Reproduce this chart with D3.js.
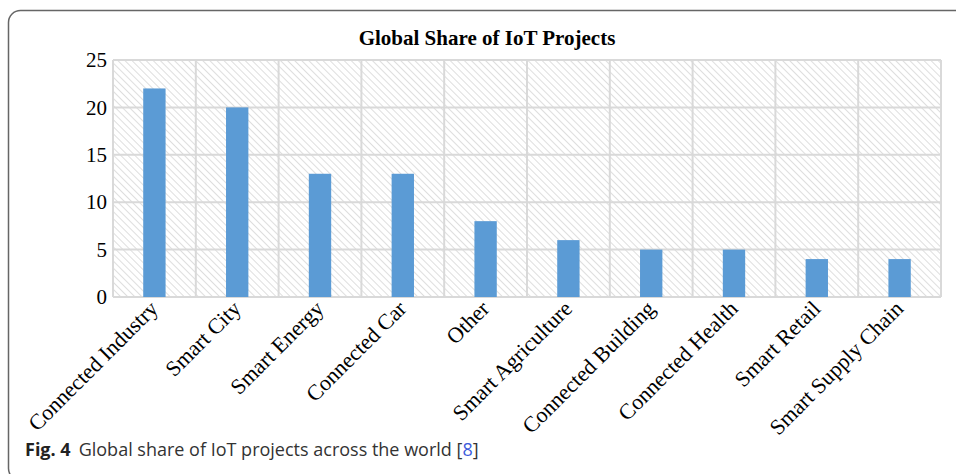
<!DOCTYPE html>
<html>
<head>
<meta charset="utf-8">
<script src="https://cdn.jsdelivr.net/npm/d3@7"></script>
<style>
  body { margin: 0; background: #fff; }
  svg { display: block; }
</style>
</head>
<body>
<div id="chart"></div>
<script>
const width = 956;
const height = 474;

// data
const categories = ["Connected Industry", "Smart City", "Smart Energy", "Connected Car", "Other",
  "Smart Agriculture", "Connected Building", "Connected Health", "Smart Retail", "Smart Supply Chain"];
const values = [22, 20, 13, 13, 8, 6, 5, 5, 4, 4];
const yTicks = [0, 5, 10, 15, 20, 25];

const margin = { left: 113, right: 15, top: 60, bottom: 177 };

const svg = d3.select("#chart")
  .append("svg")
  .attr("width", width)
  .attr("height", height);

// hatch pattern for the plot background
const defs = svg.append("defs");
const pat = defs.append("pattern")
  .attr("id", "hatch")
  .attr("patternUnits", "userSpaceOnUse")
  .attr("width", 5)
  .attr("height", 5)
  .attr("patternTransform", "rotate(-45)");
pat.append("rect").attr("width", 5).attr("height", 5).attr("fill", "#fff");
pat.append("line")
  .attr("x1", 0).attr("y1", 0).attr("x2", 0).attr("y2", 5)
  .attr("stroke", "#d6d6d6")
  .attr("stroke-width", 1.6);

// outer frame (runs off the right and bottom edges)
svg.append("rect")
  .attr("x", 8.5)
  .attr("y", 10.5)
  .attr("width", 1000)
  .attr("height", 470)
  .attr("rx", 12)
  .attr("fill", "none")
  .attr("stroke", "#666")
  .attr("stroke-width", 1.5);

const x = d3.scaleBand()
  .domain(categories)
  .range([margin.left, width - margin.right])
  .paddingInner(0)
  .paddingOuter(0);

const y = d3.scaleLinear()
  .domain([0, 25])
  .range([height - margin.bottom, margin.top]);

// plot area
svg.append("rect")
  .attr("x", margin.left)
  .attr("y", margin.top)
  .attr("width", width - margin.left - margin.right)
  .attr("height", y(0) - margin.top)
  .attr("fill", "url(#hatch)");

// horizontal gridlines
svg.append("g")
  .selectAll("line")
  .data(yTicks)
  .enter()
  .append("line")
  .attr("x1", margin.left)
  .attr("x2", width - margin.right)
  .attr("y1", d => y(d))
  .attr("y2", d => y(d))
  .attr("stroke", "#d9d9d9")
  .attr("stroke-width", 2);

// vertical gridlines at category boundaries
const bounds = categories.map(c => x(c)).concat([x.range()[1]]);
svg.append("g")
  .selectAll("line")
  .data(bounds)
  .enter()
  .append("line")
  .attr("x1", d => d)
  .attr("x2", d => d)
  .attr("y1", margin.top)
  .attr("y2", y(0))
  .attr("stroke", "#d9d9d9")
  .attr("stroke-width", 2);

// bars
const barW = x.bandwidth() * 0.27;
svg.append("g")
  .selectAll("rect")
  .data(values)
  .enter()
  .append("rect")
  .attr("x", (d, i) => x(categories[i]) + x.bandwidth() / 2 - barW / 2)
  .attr("y", d => y(d))
  .attr("width", barW)
  .attr("height", d => y(0) - y(d))
  .attr("fill", "#5b9bd5");

// y axis labels
const yAxis = svg.append("g")
  .attr("transform", `translate(${margin.left},0)`)
  .call(d3.axisLeft(y).tickValues(yTicks).tickSize(0).tickPadding(6));
yAxis.select(".domain").remove();
yAxis.selectAll("text")
  .style("font-family", "'Liberation Serif', 'Times New Roman', serif")
  .style("font-size", "21px")
  .attr("fill", "#000");

// x axis labels
const xAxis = svg.append("g")
  .attr("transform", `translate(0,${y(0)})`)
  .call(d3.axisBottom(x).tickSize(0).tickPadding(0));
xAxis.select(".domain").remove();
xAxis.selectAll("text")
  .style("font-family", "'Liberation Serif', 'Times New Roman', serif")
  .style("font-size", "22px")
  .attr("fill", "#000")
  .attr("text-anchor", "end")
  .attr("dy", "0")
  .attr("transform", "translate(5,13) rotate(-45)");

// title
svg.append("text")
  .attr("x", 487)
  .attr("y", 45)
  .attr("text-anchor", "middle")
  .style("font-family", "'Liberation Serif', 'Times New Roman', serif")
  .style("font-weight", "bold")
  .style("font-size", "21px")
  .text("Global Share of IoT Projects");

// caption
const cap = svg.append("text")
  .attr("x", 25)
  .attr("y", 456)
  .style("font-family", "'Open Sans', sans-serif")
  .style("font-size", "18px")
  .attr("fill", "#333");
cap.append("tspan").style("font-weight", "bold").attr("fill", "#222").text("Fig. 4");
cap.append("tspan").attr("dx", 8).text("Global share of IoT projects across the world [");
cap.append("tspan").attr("fill", "#3b5bdb").text("8");
cap.append("tspan").text("]");
</script>
</body>
</html>
